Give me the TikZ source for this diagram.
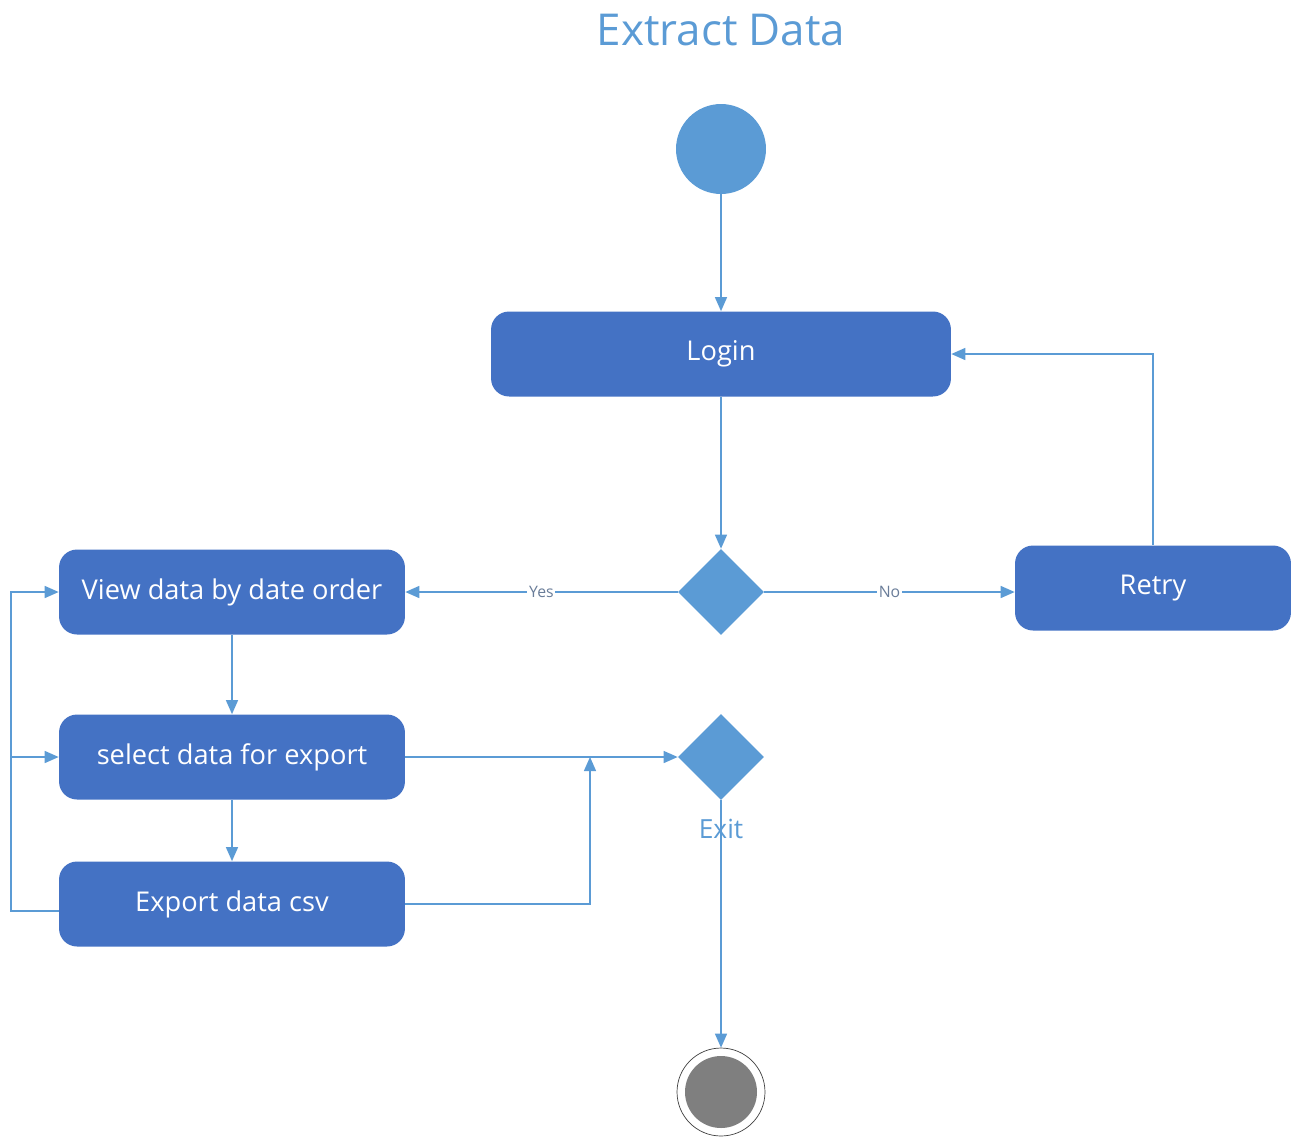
\documentclass[tikz,border=0pt]{standalone}
\usepackage{fontspec}
\setmainfont{Open Sans}
\usetikzlibrary{arrows.meta,shapes.geometric}

\definecolor{boxblue}{HTML}{4472C4}
\definecolor{lightblue}{HTML}{5B9BD5}
\definecolor{endgray}{HTML}{7F7F7F}
\definecolor{labelgray}{HTML}{6A7D99}

\begin{document}
\begin{tikzpicture}[x=0.02cm, y=-0.02cm,
    action/.style={fill=boxblue, rounded corners=0.36cm, text=white,
      minimum width=6.92cm, minimum height=1.7cm, inner sep=0pt,
      font=\fontsize{15.5}{18}\selectfont},
    decision/.style={diamond, fill=lightblue, inner sep=0pt,
      minimum width=1.72cm, minimum height=1.72cm},
    flow/.style={draw=lightblue, line width=0.8pt,
      -{Triangle[length=0.28cm, width=0.24cm]}},
    guard/.style={fill=white, text=labelgray, inner sep=1pt,
      font=\fontsize{9}{10}\selectfont}]

  % Fix the page size
  \useasboundingbox (0,0) rectangle (1295,1137);

  % Title
  \node[text=lightblue, font=\fontsize{25}{30}\selectfont] (title) at (721,30) {Extract Data};

  % Start and end states
  \node[circle, fill=lightblue, minimum size=1.8cm, inner sep=0pt] (start) at (721,149) {};
  \node[circle, draw=darkgray, line width=0.4pt, fill=white, minimum size=1.76cm, inner sep=0pt] (end) at (721,1092) {};
  \fill[endgray] (end) circle (0.72cm);

  % Actions
  \node[action, minimum width=9.2cm] (login) at (721,354) {Login};
  \node[action, minimum width=5.52cm] (retry) at (1153,588) {Retry};
  \node[action] (view) at (232,592) {View data by date order};
  \node[action] (select) at (232,757) {select data for export};
  \node[action] (export) at (232,904) {Export data csv};

  % Decisions
  \node[decision] (check) at (721,592) {};
  \node[decision] (exit) at (721,757) {};
  \node[text=lightblue, font=\fontsize{15}{18}\selectfont] (exitlabel) at (721,829) {Exit};

  % Helper points for the loops
  \coordinate (merge) at (590,757);
  \coordinate (back) at (11,911);

  % Main flow
  \draw[flow] (start) -- (login);
  \draw[flow] (login) -- (check);
  \draw[flow] (check) -- node[guard] {Yes} (view);
  \draw[flow] (check.east) -- node[guard] {No} (check.east -| retry.west);
  \draw[flow] (retry.north) |- (login.east);
  \draw[flow] (view) -- (select);
  \draw[flow] (select) -- (export);
  \draw[flow] (select) -- (exit);
  \draw[flow] (export.east) -| (merge);

  % Loop back on the left
  \draw[flow] (export.west |- back) -- (back) |- (view.west);
  \draw[flow] (back |- select) -- (select.west);

  % To the end state
  \draw[flow] (exit) -- (end);
\end{tikzpicture}
\end{document}
